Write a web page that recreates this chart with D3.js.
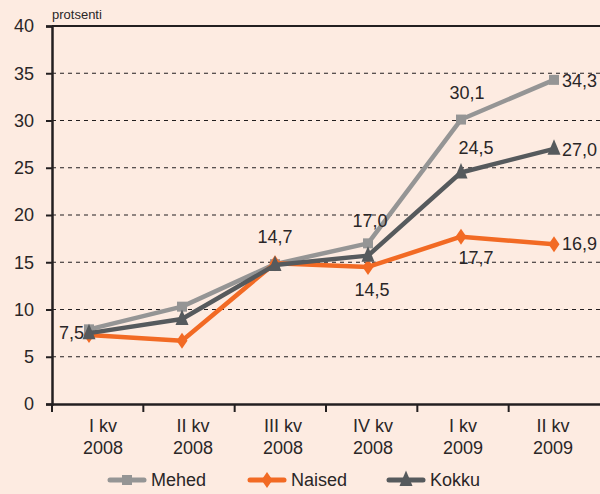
<!DOCTYPE html>
<meta charset="utf-8">
<head>
	<title>protsenti</title>
	<style>
		body { margin: 0; background: #fdebe1; }
		svg { display: block; font-family: "Liberation Sans", Arial, sans-serif; }
		.tickLabel { fill: #2a2627; font-size: 18px; }
		.valueLabel { fill: #2a2627; font-size: 18px; }
		.grid { stroke: #231f20; stroke-width: 1.2; stroke-dasharray: 4 4; }
	</style>
	<script src="https://d3js.org/d3.v7.min.js"></script>
</head>
<body>
	<div id="graph"></div>
	<script>
		const W = 600, H = 494;

		// data
		const quarters = ['I kv', 'II kv', 'III kv', 'IV kv', 'I kv', 'II kv'];
		const years = ['2008', '2008', '2008', '2008', '2009', '2009'];
		const mehed = [7.9, 10.3, 14.8, 17.0, 30.1, 34.3];
		const naised = [7.3, 6.7, 14.9, 14.5, 17.7, 16.9];
		const kokku = [7.5, 9.0, 14.7, 15.7, 24.5, 27.0];
		const yTicks = [0, 5, 10, 15, 20, 25, 30, 35, 40];

		// labels that are shown in the chart: [series, index, dx, dy, anchor]
		const shownLabels = [
			['kokku', 0, -5, 0, 'end'],
			['kokku', 2, 0, -28, 'middle'],
			['mehed', 3, 2, -22, 'middle'],
			['naised', 3, 4, 23, 'middle'],
			['mehed', 4, 6, -27, 'middle'],
			['kokku', 4, 15, -24, 'middle'],
			['naised', 4, 15, 21, 'middle'],
			['mehed', 5, 8, 1, 'start'],
			['kokku', 5, 8, 1, 'start'],
			['naised', 5, 8, 0, 'start']
		];

		const series = [
			{key: 'mehed', name: 'Mehed', values: mehed, color: '#959595', symbol: 'square'},
			{key: 'naised', name: 'Naised', values: naised, color: '#f26a24', symbol: 'diamond'},
			{key: 'kokku', name: 'Kokku', values: kokku, color: '#565a5d', symbol: 'triangle'}
		];

		const svg = d3.select('#graph').append('svg').attr('width', W).attr('height', H);

		const y = d3.scaleLinear().domain([0, 40]).range([404, 26]);
		const xBand = d3.scaleBand().domain(d3.range(6)).range([52, 600]);
		const xLabel = d3.scaleBand().domain(d3.range(6)).range([58, 598]);
		const x = d3.scalePoint().domain(d3.range(6)).range([89, 554]);

		// gridlines
		svg.append('g').selectAll('line').data(yTicks.filter(d => d > 0 && d < 40)).join('line')
			.attr('class', 'grid')
			.attr('x1', 52).attr('x2', 600)
			.attr('y1', d => y(d)).attr('y2', d => y(d));
		svg.append('line').attr('x1', 52).attr('x2', 600).attr('y1', y(40)).attr('y2', y(40))
			.attr('stroke', '#231f20').attr('stroke-width', 2);

		// y axis
		const yAxis = svg.append('g').attr('transform', 'translate(52,0)')
			.call(d3.axisLeft(y).tickValues(yTicks).tickSize(6).tickPadding(12).tickFormat(d3.format('d')));
		yAxis.select('.domain').attr('stroke', '#231f20').attr('stroke-width', 2.5);
		yAxis.selectAll('.tick line').attr('stroke', '#231f20').attr('stroke-width', 2);
		yAxis.selectAll('.tick text').attr('class', 'tickLabel').attr('font-size', null).attr('font-family', null);

		svg.append('text').attr('x', 52).attr('y', 19).attr('fill', '#2a2627')
			.attr('font-size', 13).text('protsenti');

		// x axis
		const xAxis = svg.append('g').attr('transform', 'translate(0,404)')
			.call(d3.axisBottom(xBand).tickValues([]).tickSizeOuter(0));
		xAxis.select('.domain').attr('stroke', '#231f20').attr('stroke-width', 2.5);
		svg.append('g').selectAll('line').data(xBand.domain().map(i => xBand(i))).join('line')
			.attr('x1', d => d).attr('x2', d => d)
			.attr('y1', 404).attr('y2', 412)
			.attr('stroke', '#231f20').attr('stroke-width', 2);

		const catLabels = svg.append('g').selectAll('text').data(d3.range(6)).join('text')
			.attr('class', 'tickLabel').attr('text-anchor', 'middle');
		catLabels.append('tspan').attr('x', i => xLabel(i) + xLabel.bandwidth() / 2).attr('y', 432).text(i => quarters[i]);
		catLabels.append('tspan').attr('x', i => xLabel(i) + xLabel.bandwidth() / 2).attr('y', 454).text(i => years[i]);

		// markers
		function marker(g, s, cx, cy) {
			let d;
			if (s.symbol === 'diamond') d = `M${cx},${cy - 8}L${cx + 5.5},${cy}L${cx},${cy + 8}L${cx - 5.5},${cy}Z`;
			else if (s.symbol === 'triangle') d = `M${cx},${cy - 9.5}L${cx + 6.5},${cy + 6}L${cx - 6.5},${cy + 6}Z`;
			else d = `M${cx - 5},${cy - 5}h10v10h-10Z`;
			g.append('path').attr('d', d).attr('fill', s.color);
		}

		const line = d3.line().x((d, i) => x(i)).y(d => y(d));
		series.forEach(s => {
			const g = svg.append('g');
			g.append('path').datum(s.values).attr('d', line)
				.attr('fill', 'none').attr('stroke', s.color).attr('stroke-width', 4.5).attr('stroke-linejoin', 'round');
			s.values.forEach((v, i) => marker(g, s, x(i), y(v)));
		});

		// value labels
		const byKey = {mehed, naised, kokku};
		svg.append('g').selectAll('text').data(shownLabels).join('text')
			.attr('class', 'valueLabel')
			.attr('text-anchor', d => d[4])
			.attr('dominant-baseline', 'central')
			.attr('x', d => x(d[1]) + d[2])
			.attr('y', d => y(byKey[d[0]][d[1]]) + d[3])
			.text(d => d3.format('.1f')(byKey[d[0]][d[1]]).replace('.', ','));

		// legend
		const legend = svg.append('g');
		const legendX = [110, 250, 389];
		series.forEach((s, i) => {
			const lg = legend.append('g');
			lg.append('line').attr('x1', legendX[i]).attr('x2', legendX[i] + 34).attr('y1', 480).attr('y2', 480)
				.attr('stroke', s.color).attr('stroke-width', 5).attr('stroke-linecap', 'round');
			marker(lg, s, legendX[i] + 17, 480);
			lg.append('text').attr('class', 'tickLabel').attr('x', legendX[i] + 41).attr('y', 480)
				.attr('dominant-baseline', 'central').text(s.name);
		});
	</script>
</body>
